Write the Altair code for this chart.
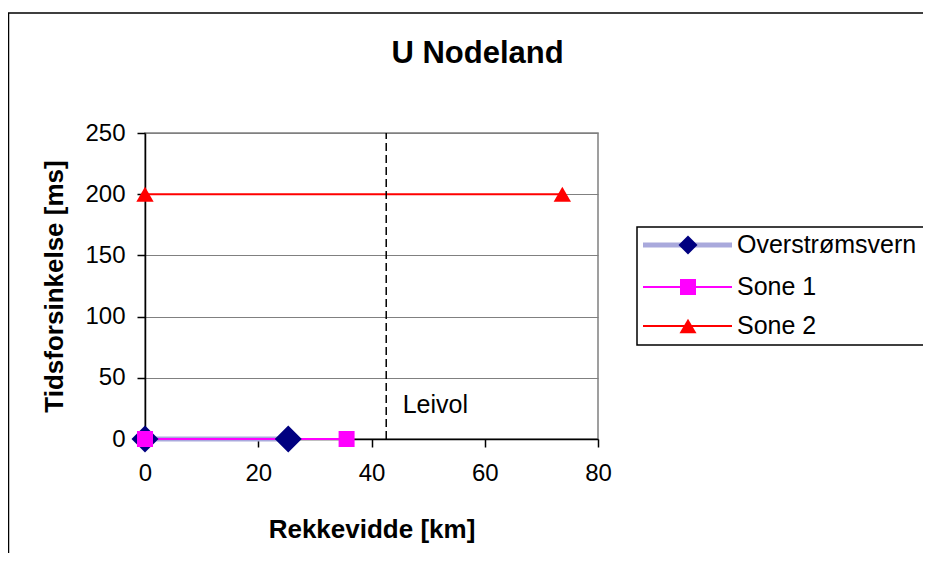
import altair as alt
import pandas as pd

FONT = "Liberation Sans"

# ---- data ----
series = ["Overstrømsvern", "Sone 1", "Sone 2"]
over_x = [0, 25.3]
over_y = [0, 0]
sone1_x = [0, 35.6]
sone1_y = [0, 0]
sone2_x = [0, 73.7]
sone2_y = [200, 200]
leivol_x = [42.6]
leivol_y0 = [0]
leivol_y1 = [250]
label_text = ["Leivol"]
label_x = [45.5]
label_y = [28]
x_ticks = [0, 20, 40, 60, 80]
y_ticks = [0, 50, 100, 150, 200, 250]
chart_title = "U Nodeland"
x_title = "Rekkevidde [km]"
y_title = "Tidsforsinkelse [ms]"

W, H = 453, 306


def X(field="x"):
    return alt.X(f"{field}:Q", scale=alt.Scale(domain=[0, 80], nice=False, zero=True),
                 axis=alt.Axis(values=x_ticks, grid=False, title=x_title, tickSize=8,
                               labelPadding=14, labelFlush=False, titleY=98,
                               titleBaseline="alphabetic",
                               titleFontSize=26, titleFontWeight="bold", labelFontSize=24))


def Y(field="y"):
    return alt.Y(f"{field}:Q", scale=alt.Scale(domain=[0, 250], nice=False, zero=True),
                 axis=alt.Axis(values=y_ticks, grid=True, gridColor="#808080", gridWidth=1,
                               title=y_title, tickSize=8, labelPadding=12, labelFlush=False,
                               titleX=-83, titleY=153, titleAngle=270, titleAlign="center",
                               titleBaseline="alphabetic", titleFontSize=26,
                               titleFontWeight="bold", labelFontSize=24))


df_over = pd.DataFrame({"x": over_x, "y": over_y})
df_s1 = pd.DataFrame({"x": sone1_x, "y": sone1_y})
df_s2 = pd.DataFrame({"x": sone2_x, "y": sone2_y})
df_lv = pd.DataFrame({"x": leivol_x, "y": leivol_y0, "y2": leivol_y1})
df_lab = pd.DataFrame({"x": label_x, "y": label_y, "t": label_text})

over_line = alt.Chart(df_over).mark_line(color="#a9a9dc", strokeWidth=5).encode(x=X(), y=Y())
s1_line = alt.Chart(df_s1).mark_line(color="#ff00ff", strokeWidth=2).encode(x=X(), y=Y())
s2_line = alt.Chart(df_s2).mark_line(color="#ff0000", strokeWidth=2).encode(x=X(), y=Y())
over_pts = alt.Chart(df_over).mark_point(shape="diamond", filled=True, color="#000080",
                                         size=729, opacity=1).encode(x=X(), y=Y())
s1_pts = alt.Chart(df_s1).mark_point(shape="square", filled=True, color="#ff00ff",
                                     size=256, opacity=1).encode(x=X(), y=Y())
s2_pts = alt.Chart(df_s2).mark_point(shape="triangle-up", filled=True, color="#ff0000",
                                     size=300, opacity=1).encode(x=X(), y=Y())
lv_rule = alt.Chart(df_lv).mark_rule(color="black", strokeDash=[8, 4], strokeWidth=1.5).encode(
    x=X(), y=Y(), y2="y2:Q")
lv_text = alt.Chart(df_lab).mark_text(align="left", baseline="middle", fontSize=25,
                                      font=FONT, color="black").encode(x=X(), y=Y(), text="t:N")

one = pd.DataFrame({"t": [chart_title]})

frame = alt.Chart(one).mark_rect(fillOpacity=0, stroke="black", strokeWidth=1.5).encode(
    x=alt.value(-136.5), x2=alt.value(900), y=alt.value(-120), y2=alt.value(440))

title_mark = alt.Chart(one).mark_text(fontSize=31, fontWeight="bold", font=FONT, align="center",
                                      baseline="alphabetic", color="black").encode(
    x=alt.value(332.5), y=alt.value(-70), text="t:N")

# legend (drawn)
leg_box = alt.Chart(one).mark_rect(fill="white", stroke="black", strokeWidth=1.5).encode(
    x=alt.value(492), x2=alt.value(900), y=alt.value(94), y2=alt.value(212))

legend_layers = [leg_box]
rows = [112, 154, 193]
styles = [
    ("#a9a9dc", 5, "diamond", "#000080", 361),
    ("#ff00ff", 2, "square", "#ff00ff", 256),
    ("#ff0000", 2, "triangle-up", "#ff0000", 289),
]
for name, ry, (lc, lw, shp, mc, ms) in zip(series, rows, styles):
    d = alt.Chart(pd.DataFrame({"t": [name]}))
    legend_layers.append(d.mark_rule(color=lc, strokeWidth=lw).encode(
        x=alt.value(498), x2=alt.value(587), y=alt.value(ry)))
    legend_layers.append(d.mark_point(shape=shp, filled=True, color=mc, size=ms, opacity=1).encode(
        x=alt.value(543), y=alt.value(ry)))
    legend_layers.append(d.mark_text(align="left", baseline="middle", fontSize=25, font=FONT,
                                     color="black").encode(
        x=alt.value(592), y=alt.value(ry), text="t:N"))

chart = alt.layer(
    over_line, s1_line, s2_line, lv_rule, over_pts, s1_pts, s2_pts, lv_text,
    frame, title_mark, *legend_layers
).properties(
    width=W, height=H,
    autosize=alt.AutoSizeParams(type="none"),
    padding={"left": 137, "top": 125, "right": 325, "bottom": 114},
    background="white",
).configure_view(
    stroke="#808080", strokeWidth=1.5
).configure_axis(
    labelFont=FONT, titleFont=FONT, labelColor="black", titleColor="black",
    domainColor="black", tickColor="black", domainWidth=1.5, tickWidth=1.5,
)

chart.save("out.html", embed_options={"renderer": "svg", "actions": False})
